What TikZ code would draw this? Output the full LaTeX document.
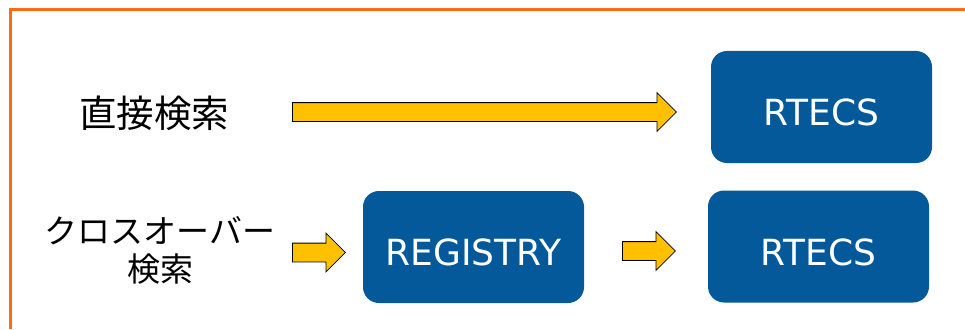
\documentclass[tikz,border=0pt]{standalone}
\usepackage{fontspec}
\setmainfont{DejaVu Sans}
\newfontfamily\jp{Noto Sans CJK JP}
\usetikzlibrary{shapes.arrows}
\definecolor{dbblue}{HTML}{04599A}
\definecolor{gold}{HTML}{FFC000}
\definecolor{frameorange}{HTML}{FF6A13}

\begin{document}
\begin{tikzpicture}[x=1pt, y=-1pt,
  db/.style = {fill=dbblue, text=white, rounded corners=16pt,
    minimum width=221pt, minimum height=112pt, text height=37pt, text depth=0pt,
    font=\fontsize{36}{40}\selectfont},
  fat/.style = {single arrow, draw=black, line width=0.8pt, fill=gold, inner sep=0pt,
    text height=18pt, text depth=0pt, single arrow head extend=10pt,
    single arrow head indent=0pt, anchor=tail}]
  \useasboundingbox (0,0) rectangle (965,329);
  \draw[frameorange, line width=3pt] (965,10) -- (10,10) -- (10,329);

  \node[font=\jp\fontsize{37.5}{40}\selectfont] (direct) at (154,113) {直接検索};
  \node[align=center, font=\jp\fontsize{33}{38}\selectfont] (cross) at (160,250) {クロスオーバー\\検索};

  \node[db] (rt1) at (821.5,107) {RTECS};
  \node[db] (reg) at (473.5,247) {REGISTRY};
  \node[db] (rt2) at (818.5,246.5) {RTECS};

  \node[fat, minimum height=384pt] (go1) at (292,112) {};
  \node[fat, minimum height=53pt] (go2) at (292,252.5) {};
  \node[fat, minimum height=53pt] (go3) at (622,251) {};
\end{tikzpicture}
\end{document}
